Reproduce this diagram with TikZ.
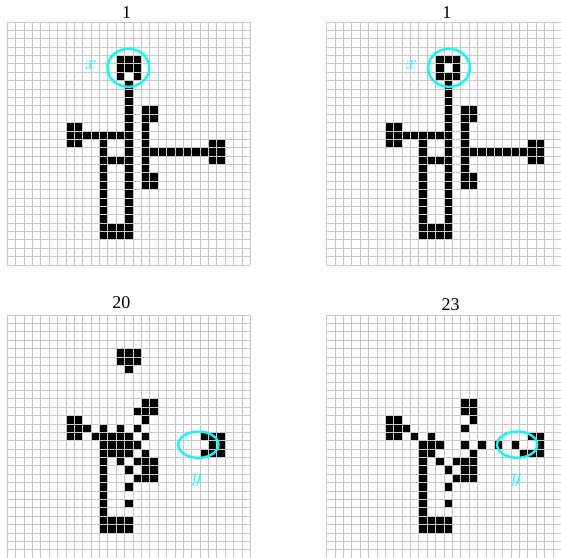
\documentclass[tikz,border=0pt]{standalone}
\usepackage{fontspec}
\setmainfont{Liberation Serif}
\definecolor{gridgray}{RGB}{200,200,200}
\definecolor{ringcyan}{RGB}{0,255,255}

\newcommand{\livecells}[1]{\foreach \c/\r in {#1} {\fill[alive] (\c,28-\r) rectangle ++(1,1);}}
% column #1, rows #2..#3 (rows counted from the top)
\newcommand{\alivecol}[3]{\foreach \k in {#2,...,#3} {\fill[alive] (#1,28-\k) rectangle ++(1,1);}}
% row #1, columns #2..#3
\newcommand{\aliverow}[3]{\foreach \k in {#2,...,#3} {\fill[alive] (\k,28-#1) rectangle ++(1,1);}}
\newcommand{\startbody}{%
  \alivecol{14}{7}{25}
  \aliverow{13}{9}{13}
  \alivecol{7}{12}{14}\alivecol{8}{12}{14}
  \alivecol{11}{14}{25}
  \livecells{12/16,13/16,12/24,13/24,12/25,13/25}
  \alivecol{16}{10}{19}
  \livecells{17/10,17/11,17/18,17/19}
  \aliverow{15}{17}{23}
  \alivecol{24}{14}{16}\alivecol{25}{14}{16}}
\newcommand{\laterbody}{%
  \alivecol{7}{12}{14}\alivecol{8}{12}{14}
  \alivecol{11}{17}{25}
  \livecells{13/17,15/17,16/17,17/17,14/18,16/18,17/18,15/19,16/19,17/19,14/20,14/22,12/24,13/24,14/24,12/25,13/25,14/25}}
\newcommand{\lifegrid}{\foreach \k in {0,...,29} {\draw[gridline] (\k,0) -- (\k,29); \draw[gridline] (0,\k) -- (29,\k);}}

\begin{document}
\begin{tikzpicture}[x=8.38pt, y=8.38pt,
    alive/.style = {fill=black},
    gridline/.style = {draw=gridgray, line width=0.8pt},
    ring/.style = {draw=ringcyan, line width=2.4pt},
    title/.style = {font=\fontsize{18}{20}\selectfont, anchor=base},
    tag/.style = {text=ringcyan, font=\fontsize{21}{21}\selectfont}]
    \clip (-0.871,-34.96) rectangle (66.07,31.62);

    % time 1, first start
    \begin{scope}
        \startbody
        \livecells{13/4,14/4,15/4,13/5,14/5,15/5,13/6,15/6}
        \lifegrid
        \draw[ring] (14.45,23.53) ellipse [x radius=2.49, y radius=2.27];
        \node[title] (t1a) at (14.25,29.36) {1};
        \node[tag] (xa) at (9.96,23.9) {$x$};
    \end{scope}

    % time 1, second start
    \begin{scope}[shift={(38.11,0)}]
        \startbody
        \livecells{13/4,14/4,15/4,13/5,15/5,13/6,14/6,15/6}
        \lifegrid
        \draw[ring] (14.6,23.53) ellipse [x radius=2.49, y radius=2.27];
        \node[title] (t1b) at (14.35,29.36) {1};
        \node[tag] (xb) at (10.1,23.9) {$x$};
    \end{scope}

    % time 20
    \begin{scope}[shift={(0,-34.97)}]
        \laterbody
        \livecells{13/4,14/4,15/4,13/5,14/5,15/5,14/6,16/10,17/10,15/11,16/11,17/11,16/12,9/13,11/13,13/13,15/13,10/14,11/14,12/14,13/14,14/14,16/14,11/15,12/15,13/15,14/15,15/15,11/16,12/16,13/16,14/16,16/16}
        \livecells{23/14,24/14,25/14,24/15,25/15,23/16,24/16,25/16}
        \lifegrid
        \draw[ring] (22.8,13.53) ellipse [x radius=2.4, y radius=1.57];
        \node[title] (t20) at (13.6,29.8) {20};
        \node[tag] (ya) at (22.6,9.3) {$y$};
    \end{scope}

    % time 23
    \begin{scope}[shift={(38.11,-34.97)}]
        \laterbody
        \livecells{16/10,17/10,16/11,17/11,17/12,9/13,16/13,10/14,12/14,11/15,12/15,13/15,16/15,18/15,20/15,22/15,11/16,12/16,17/16}
        \livecells{24/14,25/14,25/15,23/16,24/16,25/16}
        \lifegrid
        \draw[ring] (22.73,13.53) ellipse [x radius=2.4, y radius=1.57];
        \node[title] (t23) at (14.8,29.52) {23};
        \node[tag] (yb) at (22.6,9.3) {$y$};
    \end{scope}
\end{tikzpicture}
\end{document}
